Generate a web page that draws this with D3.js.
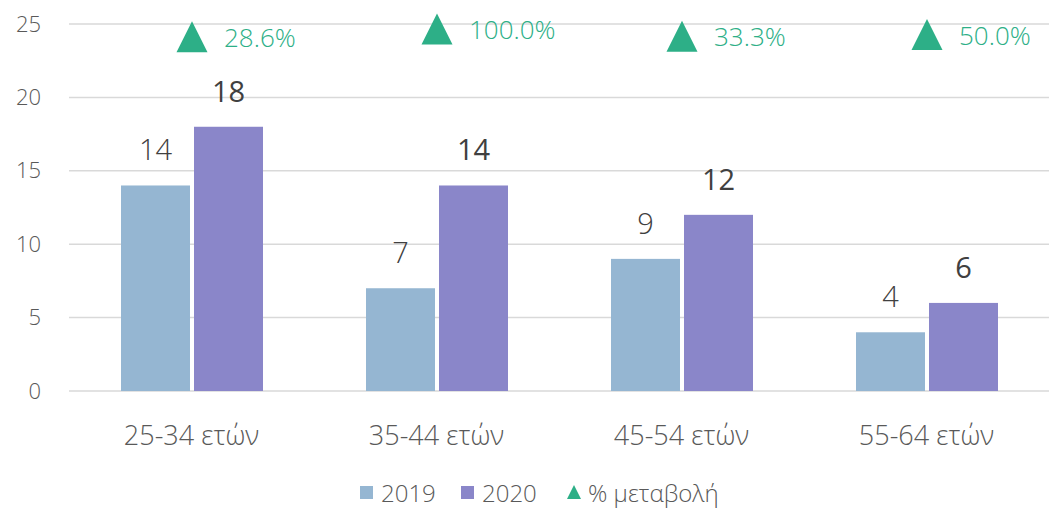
<!DOCTYPE html>
<html><head><meta charset="utf-8">
<script src="https://cdn.jsdelivr.net/npm/d3@7/dist/d3.min.js"></script>
<style>
body{margin:0;background:#fff;}
text{font-family:"Open Sans","Noto Sans",sans-serif;}
</style></head>
<body><svg id="c" width="1049" height="512"></svg>
<script>
const categories = ["25-34 ετών","35-44 ετών","45-54 ετών","55-64 ετών"];
const series2019 = [14, 7, 9, 4];
const series2020 = [18, 14, 12, 6];
const pctChange = [28.6, 100.0, 33.3, 50.0];
const yTicks = [0,5,10,15,20,25];
const seriesNames = ["2019","2020","% μεταβολή"];

const svg = d3.select("#c");
const colors = {s19:"#95b6d2", s20:"#8a86c9", tri:"#2daf87", grid:"#d9d9d9", tick:"#595959", val:"#404040"};
const FF = "'Open Sans','Noto Sans',sans-serif";

const x = d3.scaleBand().domain(categories).range([69,1049]);
const y = d3.scaleLinear().domain([0,25]).range([391,24]);
const y2 = d3.scaleLinear().domain([0,100]).range([40,29]);

// gridlines
svg.append("g").selectAll("line").data(yTicks).join("line")
  .attr("x1",69).attr("x2",1049).attr("y1",d=>y(d)).attr("y2",d=>y(d))
  .attr("stroke",colors.grid).attr("stroke-width",1.5);

// y axis labels
const yAxis = d3.axisLeft(y).tickValues(yTicks).tickSize(0).tickPadding(0);
const ga = svg.append("g").attr("transform","translate(41,0)").call(yAxis);
ga.select(".domain").remove();
ga.selectAll("text").attr("font-size",22).attr("font-weight",300).attr("fill",colors.tick).attr("font-family",FF);

// x axis labels
const xAxis = d3.axisBottom(x).tickSize(0).tickPadding(0);
const gx = svg.append("g").attr("transform","translate(0,426)").call(xAxis);
gx.select(".domain").remove();
gx.selectAll("text").attr("font-size",27).attr("font-weight",300).attr("fill",colors.tick).attr("font-family",FF);

const barW = 69, gap = 4;
const cx = c => x(c) + x.bandwidth()/2 + 0.5;

// bars
svg.append("g").selectAll("rect").data(categories).join("rect")
  .attr("x",c=>cx(c)-gap/2-barW).attr("width",barW)
  .attr("y",(c,i)=>y(series2019[i])).attr("height",(c,i)=>y(0)-y(series2019[i]))
  .attr("fill",colors.s19);
svg.append("g").selectAll("rect").data(categories).join("rect")
  .attr("x",c=>cx(c)+gap/2).attr("width",barW)
  .attr("y",(c,i)=>y(series2020[i])).attr("height",(c,i)=>y(0)-y(series2020[i]))
  .attr("fill",colors.s20);

// value labels
svg.append("g").selectAll("text").data(categories).join("text")
  .attr("x",c=>cx(c)-gap/2-barW/2).attr("y",(c,i)=>y(series2019[i])-25)
  .attr("text-anchor","middle").attr("font-size",29).attr("font-weight",300)
  .attr("fill",colors.val).text((c,i)=>series2019[i]);
svg.append("g").selectAll("text").data(categories).join("text")
  .attr("x",c=>cx(c)+gap/2+barW/2).attr("y",(c,i)=>y(series2020[i])-25)
  .attr("text-anchor","middle").attr("font-size",29).attr("font-weight",400)
  .attr("fill",colors.val).text((c,i)=>series2020[i]);

// triangles
const tri = (w,h) => `M0,${-h/2}L${w/2},${h/2}L${-w/2},${h/2}Z`;
svg.append("g").selectAll("path").data(categories).join("path")
  .attr("transform",(c,i)=>`translate(${cx(c)},${y2(pctChange[i])})`)
  .attr("d",tri(31,31)).attr("fill",colors.tri);
svg.append("g").selectAll("text").data(categories).join("text")
  .attr("x",c=>cx(c)+32).attr("y",(c,i)=>y2(pctChange[i])+1)
  .attr("dy","0.35em").attr("font-size",26).attr("font-weight",300)
  .attr("fill",colors.tri).text((c,i)=>pctChange[i].toFixed(1)+"%");

// legend
const lg = svg.append("g");
const legItems = [
  {name:seriesNames[0], color:colors.s19, type:"rect", x:360},
  {name:seriesNames[1], color:colors.s20, type:"rect", x:461},
  {name:seriesNames[2], color:colors.tri, type:"tri", x:567}
];
legItems.forEach(d=>{
  if(d.type==="rect"){
    lg.append("rect").attr("x",d.x).attr("y",486).attr("width",13).attr("height",13).attr("fill",d.color);
  } else {
    lg.append("path").attr("transform",`translate(${d.x+7},492)`).attr("d",tri(14,14)).attr("fill",d.color);
  }
  lg.append("text").attr("x",d.x+21).attr("y",494).attr("dy","0.35em")
    .attr("font-size",24).attr("font-weight",300).attr("fill",colors.tick).text(d.name);
});
</script></body></html>
